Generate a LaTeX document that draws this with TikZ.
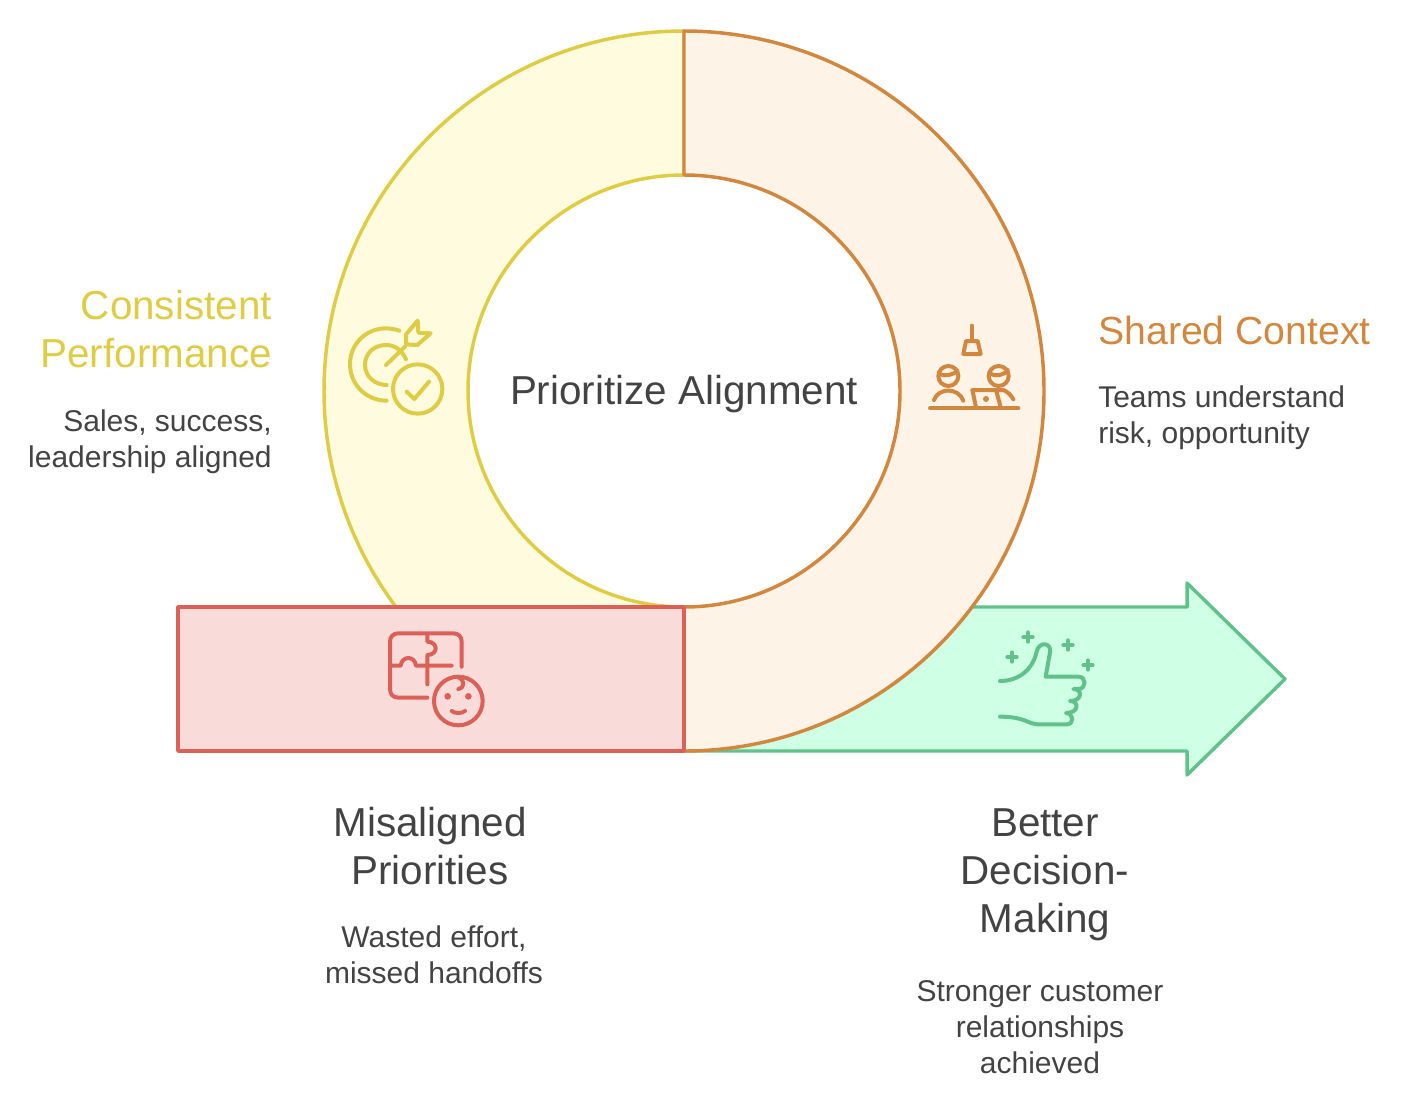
\documentclass[tikz,border=0pt]{standalone}
\usepackage{fontspec}
\setmainfont{Liberation Sans}
\definecolor{ylw}{HTML}{DFCC45}\definecolor{ylwf}{HTML}{FEFBDF}
\definecolor{org}{HTML}{D2873F}\definecolor{orgf}{HTML}{FDF3E7}
\definecolor{rd}{HTML}{DB6058}\definecolor{rdf}{HTML}{F9DBD9}
\definecolor{grn}{HTML}{60C28A}\definecolor{grnf}{HTML}{CFFFE5}
\definecolor{txt}{HTML}{434343}
\tikzset{
 shapeline/.style={line width=2.6pt,line join=round},
 icon/.style={line width=3pt,line cap=round,line join=round,x=0.25pt,y=-0.25pt},
 head/.style={inner sep=0pt,font=\fontsize{30.3}{36}\selectfont},
 headnarrow/.style={inner sep=0pt,font=\fontsize{29.4}{36}\selectfont},
 sub/.style={inner sep=0pt,text=txt,font=\fontsize{22.5}{27}\selectfont},
}
\begin{document}
\begin{tikzpicture}[x=0.75pt,y=-0.75pt]
\useasboundingbox (0,0) rectangle (1426,1106);
% arrow
\draw[shapeline,draw=grn,fill=grnf] (684,751) -- (1187,751) -- (1187,775) -- (1285,679) -- (1187,583) -- (1187,607) -- (975,607) -- (684,607) -- cycle;
% yellow half
\draw[shapeline,draw=ylw,fill=ylwf] (684,31) arc[start angle=90,end angle=216.87,radius=270pt] -- (684,607) arc[start angle=270,end angle=90,radius=162pt] -- cycle;
% orange half
\draw[shapeline,draw=org,fill=orgf] (684,31) arc[start angle=90,end angle=-90,radius=270pt] -- (684,607) arc[start angle=-90,end angle=90,radius=162pt] -- cycle;
% red box
\draw[shapeline,draw=rd,fill=rdf] (178,607) rectangle (684,751);
% centre
\node[head,text=txt] (centre) at (684,394) {Prioritize Alignment};
% labels
\node[head,text=ylw,anchor=north east,align=right] (consistent) at (272,290) {Consistent\\Performance};
\node[sub,anchor=north east,align=right] (consistentsub) at (272,409) {Sales, success,\\leadership aligned};
\node[headnarrow,text=org,anchor=north west,align=left] (shared) at (1098,316) {Shared Context};
\node[sub,anchor=north west,align=left] (sharedsub) at (1098,385) {Teams understand\\risk, opportunity};
\node[head,text=txt,anchor=north,align=center] (misaligned) at (430,807) {Misaligned\\Priorities};
\node[sub,anchor=north,align=center] (misalignedsub) at (434,925) {Wasted effort,\\missed handoffs};
\node[head,text=txt,anchor=north,align=center] (better) at (1045,808) {Better\\Decision-\\Making};
\node[sub,anchor=north,align=center] (bettersub) at (1040,980) {Stronger customer\\relationships\\achieved};
% target icon
\begin{scope}[shift={(330,300)},icon,draw=ylw]
 \draw (208,92) .. controls (130,65) and (60,120) .. (60,192) .. controls (60,255) and (110,302) .. (170,302);
 \draw (228,178) .. controls (215,150) and (195,135) .. (168,135) .. controls (132,135) and (105,160) .. (105,195) .. controls (105,230) and (135,255) .. (170,255);
 \draw (168,195) -- (225,140);
 \draw (228,133) -- (228,103) -- (263,62) -- (265,98) -- (302,100) -- (262,135) -- cycle;
 \draw (263,267) circle[radius=74];
 \draw (230,275) -- (253,297) -- (297,245);
\end{scope}
% team icon
\begin{scope}[shift={(910,310)},icon,draw=org]
 \draw (185,47) -- (185,92);
 \draw (168,93) -- (203,93) -- (212,132) -- (160,132) -- cycle;
 \draw (115,198) circle[radius=30];
 \draw (266,198) circle[radius=30];
 \draw (88,192) .. controls (105,200) and (130,195) .. (142,182);
 \draw (238,190) .. controls (255,200) and (280,198) .. (293,180);
 \draw (72,270) .. controls (85,232) and (145,232) .. (160,272);
 \draw (60,295) -- (325,295);
 \draw (198,292) -- (187,240) -- (258,240) -- (272,292);
 \fill[org] (228,267) circle[radius=9];
 \draw (262,240) -- (280,240) .. controls (292,245) and (303,255) .. (310,268);
\end{scope}
% puzzle icon
\begin{scope}[shift={(370,615)},icon,draw=rd]
 \draw (172,248) -- (85,248) .. controls (70,248) and (60,238) .. (60,223) -- (60,80) .. controls (60,65) and (70,55) .. (85,55) -- (250,55) .. controls (265,55) and (275,65) .. (275,80) -- (275,155);
 \draw (65,152) -- (92,152) .. controls (94,137) and (104,129) .. (115,129) .. controls (126,129) and (136,137) .. (138,152) -- (245,152);
 \draw (172,60) -- (172,80) .. controls (188,80) and (197,90) .. (197,100) .. controls (197,110) and (188,120) .. (172,120) -- (172,208);
 \draw (265,258) circle[radius=73];
 \fill[rd] (233,244) circle[radius=10];
 \fill[rd] (295,244) circle[radius=10];
 \draw (245,288) .. controls (255,296) and (275,296) .. (285,288);
 \draw (265,187) .. controls (285,195) and (285,218) .. (265,222);
\end{scope}
% thumb icon
\begin{scope}[shift={(980,615)},icon,draw=grn]
 \draw (60,198) .. controls (115,198) and (158,165) .. (170,110) .. controls (175,80) and (215,80) .. (210,112) -- (197,185) -- (295,185) .. controls (320,185) and (320,222) .. (295,222) -- (280,222) .. controls (308,222) and (308,258) .. (270,258) .. controls (298,258) and (298,294) .. (258,294) .. controls (280,294) and (285,328) .. (260,328) -- (175,328) .. controls (145,328) and (135,305) .. (60,305);
 \foreach \cx/\cy in {144/66,96/126,264/90,324/150}{
  \draw (\cx-14,\cy) -- (\cx+14,\cy);
  \draw (\cx,\cy-14) -- (\cx,\cy+14);
 }
\end{scope}
\end{tikzpicture}
\end{document}
